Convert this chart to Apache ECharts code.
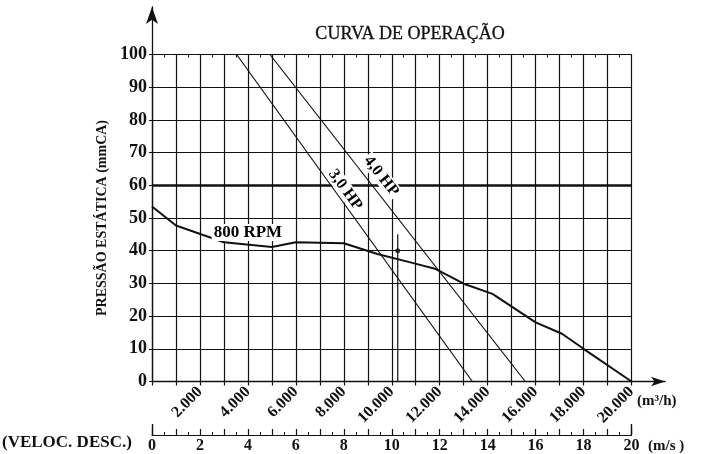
<!DOCTYPE html>
<html>
<head>
<meta charset="utf-8">
<script src="https://cdn.jsdelivr.net/npm/echarts@6/dist/echarts.min.js"></script>
<style>
html,body{margin:0;padding:0;background:#fff;}
#chart{width:705px;height:454px;}
</style>
</head>
<body>
<div id="chart"></div>
<script>
// ---- data ----
const rpmFlow = [0, 1000, 3000, 5000, 6000, 8000, 9400, 10900, 11800, 13000, 14200, 16000, 17100, 18000, 20000];
const rpmPressure = [53.5, 47.7, 42.6, 41.1, 42.6, 42.3, 39, 36.2, 34.5, 29.9, 26.8, 18.1, 14.6, 10, 0];
const hp3Flow = [3530, 13360];
const hp3Pressure = [100, 0];
const hp4Flow = [4920, 15570];
const hp4Pressure = [100, 0];
const markerFlow = [10250, 10250];
const markerPressure = [0, 45];
const opPoint = [10250, 40];
const boldPressure = 60;
const labelText = ['800 RPM', '3,0 HP', '4,0 HP'];
const labelFlow = [4000, 8060, 9560];
const labelPressure = [45.6, 58.6, 62.8];
const flowTickLabels = ['2.000','4.000','6.000','8.000','10.000','12.000','14.000','16.000','18.000','20.000'];
const velocityTickLabels = ['0','2','4','6','8','10','12','14','16','18','20'];

const zip = (a, b) => a.map((v, i) => [v, b[i]]);
const SERIF = '"Liberation Serif", "Times New Roman", serif';
const INK = '#111';

const chart = echarts.init(document.getElementById('chart'), null, {renderer: 'canvas'});

const labelRotate = [0, -54, -52];
const labelSize = [17, 16, 16];

const option = {
  animation: false,
  backgroundColor: '#fff',
  grid: [
    {left: 152, right: 73.5, top: 54.5, bottom: 72.5},
    {left: 152, right: 40, top: 7, bottom: 72.5}
  ],
  graphic: [
    {type: 'text', x: 410, y: 34, style: {text: 'CURVA DE OPERAÇÃO', font: '18px ' + SERIF, fill: INK, stroke: INK, lineWidth: 0.3, textAlign: 'center', textVerticalAlign: 'middle', align: 'center', verticalAlign: 'middle'}},
    {type: 'text', x: 2, y: 443, style: {text: '(VELOC. DESC.)', font: 'bold 17px ' + SERIF, fill: INK, textAlign: 'left', textVerticalAlign: 'middle', align: 'left', verticalAlign: 'middle'}},
    {type: 'text', x: 637, y: 401, style: {text: '(m³/h)', font: 'bold 15px ' + SERIF, fill: INK, textAlign: 'left', textVerticalAlign: 'middle', align: 'left', verticalAlign: 'middle'}},
    {type: 'text', x: 648, y: 446, style: {text: '(m/s )', font: 'bold 15px ' + SERIF, fill: INK, textAlign: 'left', textVerticalAlign: 'middle', align: 'left', verticalAlign: 'middle'}}
  ],
  xAxis: [
    { // main flow axis
      gridIndex: 0, type: 'value', min: 0, max: 20000, interval: 1000,
      axisLine: {show: false},
      axisTick: {show: true, length: 4, lineStyle: {color: INK, width: 1.2}},
      axisLabel: {
        rotate: 45, margin: 8, color: INK, fontFamily: SERIF, fontWeight: 'bold', fontSize: 16,
        formatter: v => (v > 0 && v % 2000 === 0) ? flowTickLabels[v / 2000 - 1] : ''
      },
      splitLine: {show: true, lineStyle: {color: INK, width: 1.2}}
    },
    { // minor ticks of flow axis
      gridIndex: 0, type: 'value', min: 0, max: 20000, interval: 500,
      axisLine: {show: false},
      axisTick: {show: true, inside: true, length: 3, lineStyle: {color: INK, width: 1}},
      axisLabel: {show: false}, splitLine: {show: false}
    },
    { // velocity axis
      gridIndex: 0, type: 'value', min: 0, max: 20, interval: 1, position: 'bottom', offset: 53.5,
      axisLine: {show: true, lineStyle: {color: INK, width: 1.2}},
      axisTick: {show: true, inside: true, length: 6, lineStyle: {color: INK, width: 1.2}},
      minorTick: {show: true, splitNumber: 2, length: 3, lineStyle: {color: INK, width: 1}},
      axisLabel: {
        margin: 3, color: INK, fontFamily: SERIF, fontWeight: 'bold', fontSize: 16,
        formatter: v => (v % 2 === 0) ? velocityTickLabels[v / 2] : ''
      },
      splitLine: {show: false}
    },
    { // velocity axis end ticks
      gridIndex: 0, type: 'value', min: 0, max: 20, interval: 20, position: 'bottom', offset: 53.5,
      axisLine: {show: false},
      axisTick: {show: true, inside: true, length: 11, lineStyle: {color: INK, width: 1.4}},
      axisLabel: {show: false}, splitLine: {show: false}
    },
    { // arrow x axis
      gridIndex: 1, type: 'value', min: 0, max: 1,
      axisLine: {show: true, symbol: ['none', 'arrow'], symbolSize: [7, 14], lineStyle: {color: INK, width: 1.3}},
      axisTick: {show: false}, axisLabel: {show: false}, splitLine: {show: false}
    }
  ],
  yAxis: [
    {
      gridIndex: 0, type: 'value', min: 0, max: 100, interval: 10,
      name: 'PRESSÃO ESTÁTICA (mmCA)', nameLocation: 'middle', nameGap: 40, nameRotate: 90,
      nameTextStyle: {color: INK, fontFamily: SERIF, fontWeight: 'bold', fontSize: 14},
      axisLine: {show: false},
      axisTick: {show: true, length: 3, lineStyle: {color: INK, width: 1}},
      axisLabel: {margin: 5, color: INK, fontFamily: SERIF, fontWeight: 'bold', fontSize: 18},
      splitLine: {show: true, lineStyle: {color: INK, width: 1.2}}
    },
    {
      gridIndex: 1, type: 'value', min: 0, max: 1,
      axisLine: {show: true, symbol: ['none', 'arrow'], symbolSize: [9, 17], lineStyle: {color: INK, width: 1.3}},
      axisTick: {show: false}, axisLabel: {show: false}, splitLine: {show: false}
    }
  ],
  series: [
    {
      name: '800 RPM', type: 'line', xAxisIndex: 0, yAxisIndex: 0,
      data: zip(rpmFlow, rpmPressure), symbol: 'none',
      lineStyle: {color: INK, width: 2}, z: 3,
      markLine: {
        silent: true, symbol: ['none', 'none'], label: {show: false},
        lineStyle: {color: INK, width: 2.6, type: 'solid'},
        data: [{yAxis: boldPressure}]
      }
    },
    {
      name: '3,0 HP', type: 'line', xAxisIndex: 0, yAxisIndex: 0,
      data: zip(hp3Flow, hp3Pressure), symbol: 'none',
      lineStyle: {color: INK, width: 1.2}, z: 3
    },
    {
      name: '4,0 HP', type: 'line', xAxisIndex: 0, yAxisIndex: 0,
      data: zip(hp4Flow, hp4Pressure), symbol: 'none',
      lineStyle: {color: INK, width: 1.2}, z: 3
    },
    {
      name: 'marker', type: 'line', xAxisIndex: 0, yAxisIndex: 0,
      data: zip(markerFlow, markerPressure), symbol: 'none',
      lineStyle: {color: INK, width: 1.2}, z: 3
    },
    {
      name: 'op', type: 'scatter', xAxisIndex: 0, yAxisIndex: 0,
      data: [opPoint], symbol: 'circle', symbolSize: 5,
      itemStyle: {color: INK}, z: 4
    },
    {
      name: 'labels', type: 'scatter', xAxisIndex: 0, yAxisIndex: 0,
      symbolSize: 0, z: 10, itemStyle: {color: INK, opacity: 1},
      data: labelText.map((t, i) => ({
        name: t, value: [labelFlow[i], labelPressure[i]],
        label: {rotate: labelRotate[i], fontSize: labelSize[i]}
      })),
      label: {
        show: true, position: 'inside', formatter: p => p.name,
        color: '#000', fontFamily: SERIF, fontWeight: 'bold', backgroundColor: '#fff', padding: [0, 2],
        textBorderWidth: 0, textBorderColor: 'transparent', opacity: 1
      }
    }
  ]
};
chart.setOption(option);
</script>
</body>
</html>
